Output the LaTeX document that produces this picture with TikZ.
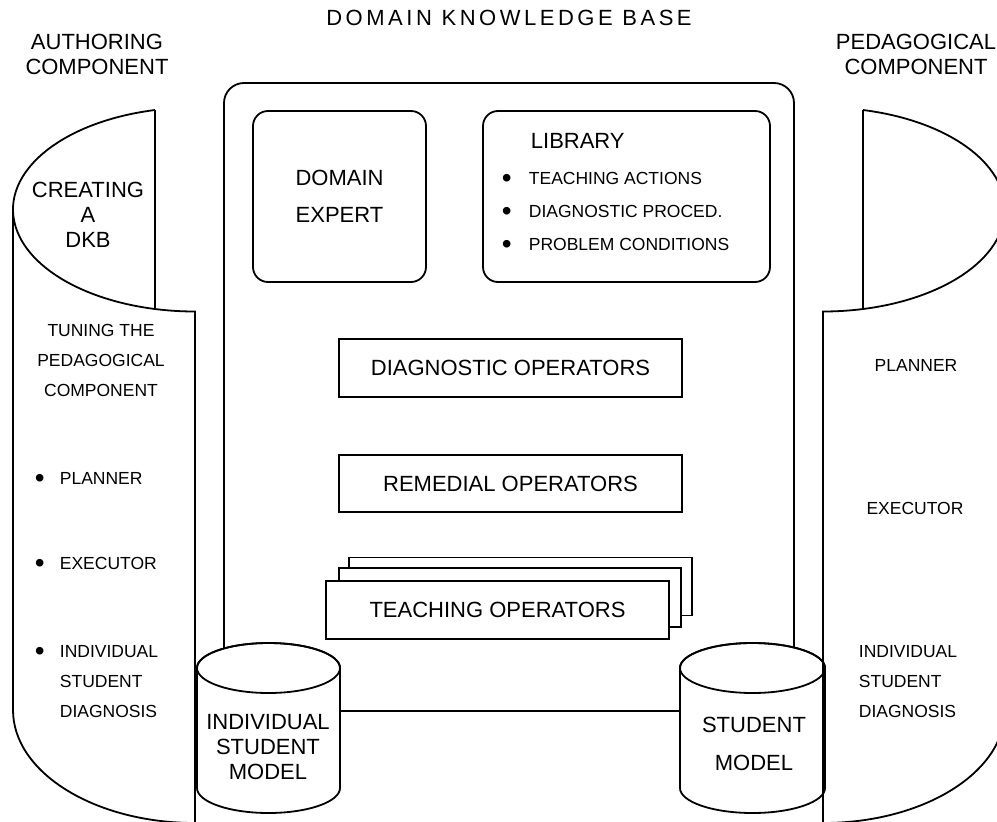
\documentclass[tikz,border=0pt]{standalone}
\usepackage{fontspec}
\setmainfont{Liberation Sans}
\usetikzlibrary{positioning}
\newcommand{\bigbul}{\raisebox{-0.17em}[0pt][0pt]{\scalebox{1.6}{\textbullet}}}
\newcommand{\itembul}{\makebox[25pt][l]{\bigbul}}
\newcommand{\drum}[2]{%
  \filldraw[fill=white] (#1-#2,668) -- (#1-#2,788)
    arc[start angle=180, end angle=0, x radius=#2, y radius=25] -- (#1+#2,668)
    arc[start angle=0, end angle=-180, x radius=#2, y radius=25] -- cycle;
  \draw (#1,668) ellipse[x radius=#2, y radius=25];
}
\tikzset{
  bigtext/.style={font=\fontsize{22}{25}\selectfont, inner sep=0pt, align=center},
  smalltext/.style={font=\fontsize{17.5}{30}\selectfont, inner sep=0pt, align=left},
  opbox/.style={draw, fill=white, font=\fontsize{22}{25}\selectfont, minimum width=343pt, minimum height=58pt, inner sep=0pt},
  roundbox/.style={draw, rounded corners=15pt, minimum height=171pt, inner sep=0pt, align=center},
}

\begin{document}
\begin{tikzpicture}[x=1pt, y=-1pt, line width=1.8pt]
            \useasboundingbox (0,0) rectangle (997,822);
            % titles
            \node[bigtext] (kbtitle) at (509,18) {\addfontfeature{LetterSpace=16}DOMAIN KNOWLEDGE BASE};
            \node[bigtext] (authtitle) at (97,54) {AUTHORING\\COMPONENT};
            \node[bigtext] (pedtitle) at (916,54) {PEDAGOGICAL\\COMPONENT};

            % domain knowledge base
            \draw[rounded corners=20pt] (224,83) rectangle (794,711);
            \node[roundbox, minimum width=173pt, font=\fontsize{22}{37}\selectfont] (expert) at (339.5,196.5) {DOMAIN\\EXPERT};
            \node[roundbox, minimum width=287pt] (library) at (626.5,196.5) {};
            \node[bigtext, anchor=west] (libtitle) at (530,141) {LIBRARY};
            \node[smalltext, anchor=west] (libact) at (501,178) {\makebox[27pt][l]{\bigbul}TEACHING ACTIONS};
            \node[smalltext, anchor=west] (libdiag) at (501,211) {\makebox[27pt][l]{\bigbul}DIAGNOSTIC PROCED.};
            \node[smalltext, anchor=west] (libcond) at (501,244) {\makebox[27pt][l]{\bigbul}PROBLEM CONDITIONS};

            \node[opbox] (diagops) at (510.5,368) {DIAGNOSTIC OPERATORS};
            \node[opbox, minimum height=57pt] (remops) at (510.5,483.5) {REMEDIAL OPERATORS};
            \node[opbox] (teachback) at (520.5,586.5) {};
            \node[opbox, minimum width=342pt, minimum height=59pt] (teachmid) at (510,597.5) {};
            \node[opbox] (teachops) at (497.5,610) {TEACHING OPERATORS};

            % student models
            \drum{268.5}{71.5}
            \drum{752.5}{72.5}
            \node[bigtext] (indmodel) at (268,747) {INDIVIDUAL\\STUDENT\\MODEL};
            \node[bigtext, font=\fontsize{22}{38}\selectfont] (stumodel) at (754,744) {STUDENT\\MODEL};

            % authoring component
            \coordinate (AT) at (155,110);
            \coordinate (AJ) at (155,309);
            \draw (AT) arc[start angle=257.3, end angle=90, x radius=182, y radius=102]
              -- (195,823) arc[start angle=90, end angle=180, x radius=182, y radius=113] -- (13,210);
            \draw (AT) -- (AJ);
            \node[bigtext] (creating) at (88,215) {CREATING\\A\\DKB};
            \node[smalltext, align=center] (tuning) at (101,360) {TUNING THE\\PEDAGOGICAL\\COMPONENT};
            \node[smalltext, anchor=west] (lplan) at (34,478) {\itembul PLANNER};
            \node[smalltext, anchor=west] (lexec) at (34,563) {\itembul EXECUTOR};
            \node[smalltext, anchor=west] (ldiag) at (34,682) {\itembul INDIVIDUAL\\\hspace*{25pt}STUDENT\\\hspace*{25pt}DIAGNOSIS};

            % pedagogical component
            \coordinate (PT) at (863,110);
            \coordinate (PJ) at (863,309);
            \draw (PT) arc[start angle=-77.3, end angle=90, x radius=182, y radius=102]
              -- (823,823) arc[start angle=90, end angle=0, x radius=182, y radius=113] -- (1005,210);
            \draw (PT) -- (PJ);
            \node[smalltext] (rplan) at (916,365) {PLANNER};
            \node[smalltext] (rexec) at (915,508) {EXECUTOR};
            \node[smalltext, anchor=west] (rdiag) at (858,682) {INDIVIDUAL\\STUDENT\\DIAGNOSIS};
        \end{tikzpicture}
\end{document}
